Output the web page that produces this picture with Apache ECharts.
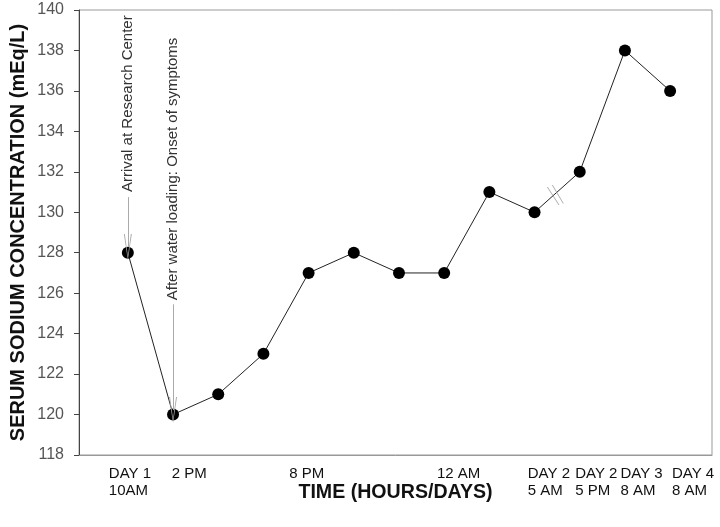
<!DOCTYPE html>
<html>
<head>
<meta charset="utf-8">
<script src="https://cdn.jsdelivr.net/npm/echarts@6/dist/echarts.min.js"></script>
<style>
body { margin: 0; background: #fff; }
#chart { width: 720px; height: 527px; }
</style>
</head>
<body>
<div id="chart"></div>
<script>
// measurement order (one step between samples)
const timeIndex = [0, 1, 2, 3, 4, 5, 6, 7, 8, 9, 10, 11, 12];
const sodium = [128, 120, 121, 123, 127, 128, 127, 127, 131, 130, 132, 138, 136];

// time labels on the x axis and where they sit (in step units)
const timeLabels = ['DAY 1\n10AM', '2 PM', '8 PM', '12 AM', 'DAY 2\n5 AM', 'DAY 2\n5 PM', 'DAY 3\n8 AM', 'DAY 4\n8 AM'];
const timeLabelAt = [-0.42, 0.97, 3.57, 6.84, 8.85, 9.9, 10.9, 12.04];

// notes pointing at a sample
const noteText = ['Arrival at Research Center', 'After water loading: Onset of symptoms'];
const noteIndex = [0, 1];
const noteTextStart = [131.0, 125.65];
const noteArrowFrom = [130.75, 125.45];
const noteArrowTo = [128.28, 120.22];

// axis break between day 2 samples
const breakAt = [9.46, 130.85];

const font = 'Liberation Sans, Arial, sans-serif';
const arrowPath = 'path://M0,26 L4,0 L8,26 L7,26 L4,4 L1,26 Z';
const breakPath = 'path://M0,2 L1,2 L12.7,20 L11.7,20 Z M5,0 L6,0 L17,18.3 L16,18.3 Z';

const chart = echarts.init(document.getElementById('chart'));

const option = {
  animation: false,
  grid: {
    left: 77,
    right: 8,
    top: 10,
    bottom: 72,
    show: true,
    borderColor: '#999',
    borderWidth: 1
  },
  xAxis: {
    type: 'value',
    min: -1.081,
    max: 12.927,
    name: 'TIME (HOURS/DAYS)',
    nameLocation: 'middle',
    nameGap: 28,
    nameMoveOverlap: false,
    nameTextStyle: { fontFamily: font, fontSize: 19.6, fontWeight: 'bold', color: '#111' },
    axisLine: { onZero: false, lineStyle: { color: '#999', width: 1 } },
    axisTick: { show: false },
    splitLine: { show: false },
    axisLabel: {
      customValues: timeLabelAt,
      formatter: v => {
        const i = timeLabelAt.findIndex(p => Math.abs(p - v) < 1e-6);
        return i >= 0 ? timeLabels[i] : '';
      },
      align: 'left',
      margin: 10,
      fontFamily: font,
      fontSize: 15,
      lineHeight: 17,
      color: '#111'
    }
  },
  yAxis: {
    type: 'value',
    min: 118,
    max: 140,
    interval: 2,
    name: 'SERUM SODIUM CONCENTRATION (mEq/L)',
    nameLocation: 'middle',
    nameGap: 51,
    nameMoveOverlap: false,
    nameTextStyle: { fontFamily: font, fontSize: 20, fontWeight: 'bold', color: '#111' },
    axisLine: { show: true, onZero: false, lineStyle: { color: '#444', width: 1 } },
    axisTick: { show: true, length: 5, lineStyle: { color: '#444' } },
    splitLine: { show: false },
    axisLabel: { margin: 15, fontFamily: font, fontSize: 16, color: '#555' }
  },
  series: [
    {
      type: 'line',
      data: timeIndex.map((t, i) => [t, sodium[i]]),
      symbol: 'circle',
      symbolSize: 12,
      itemStyle: { color: '#000' },
      lineStyle: { color: '#222', width: 1 },
      z: 3,
      markLine: {
        silent: true,
        label: { show: false },
        lineStyle: { color: '#aaa', width: 1, type: 'solid' },
        data: noteIndex.map((x, i) => [
          { coord: [x, noteArrowFrom[i]], symbol: 'none' },
          { coord: [x, noteArrowTo[i]], symbol: arrowPath, symbolSize: [8, 26] }
        ])
      },
      markPoint: {
        silent: true,
        symbolSize: 0,
        label: {
          show: true,
          formatter: '{b}',
          position: 'inside',
          rotate: 90,
          align: 'left',
          verticalAlign: 'middle',
          fontFamily: font,
          fontSize: 15,
          color: '#333'
        },
        data: noteIndex.map((x, i) => ({ name: noteText[i], coord: [x, noteTextStart[i]] }))
      }
    },
    {
      type: 'scatter',
      data: [breakAt],
      symbol: breakPath,
      symbolSize: [17, 20],
      itemStyle: { color: '#999' },
      silent: true,
      z: 4
    }
  ]
};

chart.setOption(option);
</script>
</body>
</html>
